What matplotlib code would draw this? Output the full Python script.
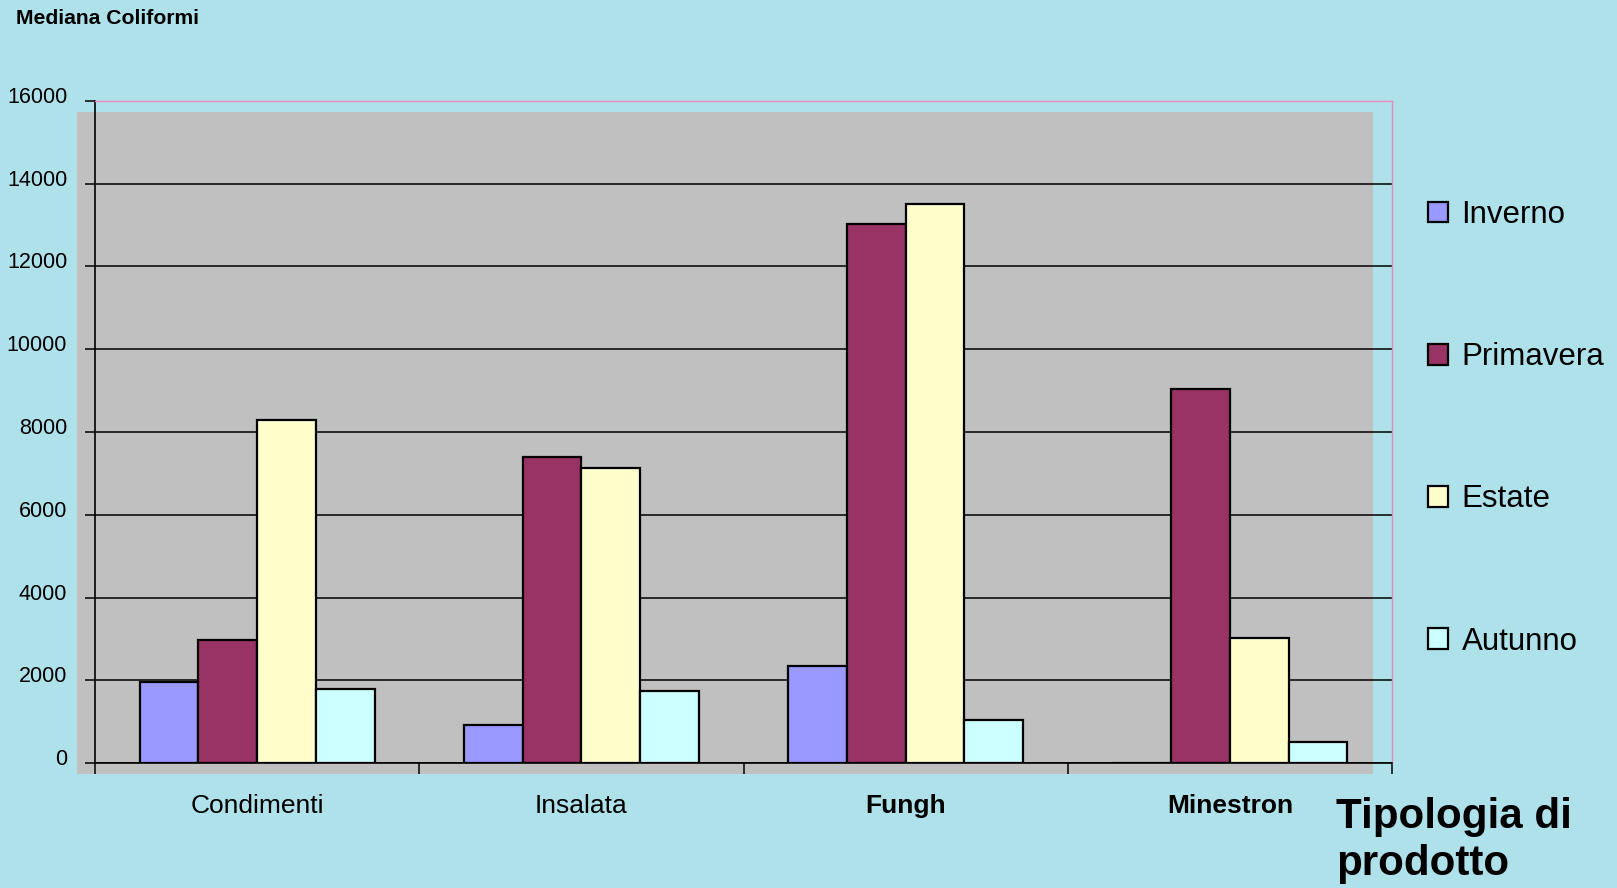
import matplotlib
matplotlib.use("Agg")
import matplotlib.pyplot as plt
import matplotlib.transforms as mtransforms
import numpy as np

plt.rcParams['font.family'] = ['Liberation Sans', 'DejaVu Sans']

# Mediana coliformi per tipologia di prodotto e stagione
categorie = ["Condimenti", "Insalata", "Fungh", "Minestron"]
categorie_bold = [False, False, True, True]
stagioni = ["Inverno", "Primavera", "Estate", "Autunno"]
inverno = [1950, 920, 2340, 0]
primavera = [2970, 7400, 13030, 9050]
estate = [8300, 7130, 13500, 3020]
autunno = [1800, 1750, 1050, 500]
y_ticks = [0, 2000, 4000, 6000, 8000, 10000, 12000, 14000, 16000]

colori = ["#9999FF", "#993366", "#FFFFCC", "#CCFFFF"]
serie = [inverno, primavera, estate, autunno]

W, H = 1617, 888
fig = plt.figure(figsize=(W / 100, H / 100), dpi=100)
fig.patch.set_facecolor("#afe1eb")

# grey plot area (offset from the axes, like the original)
bg = fig.add_axes([77 / W, 1 - 774 / H, 1296 / W, 662 / H])
bg.set_facecolor("#C0C0C0")
bg.set_xticks([])
bg.set_yticks([])
for s in bg.spines.values():
    s.set_visible(False)
bg.set_zorder(0)

ax = fig.add_axes([95 / W, 1 - 763 / H, 1297 / W, 662 / H])
ax.set_facecolor("none")
ax.set_zorder(1)

x = np.arange(len(categorie))
larg = 0.181
for i, (vals, col, nome) in enumerate(zip(serie, colori, stagioni)):
    ax.bar(x + (i - 1.5) * larg, vals, width=larg, color=col, edgecolor="black",
           linewidth=1.6, label=nome, zorder=3)

ax.set_xlim(-0.5, len(categorie) - 0.5)
ax.set_ylim(0, 16000)
ax.set_yticks(y_ticks)
ax.set_yticklabels([str(v) for v in y_ticks], fontsize=15.5)
ax.yaxis.grid(True, color="black", linewidth=1.1)
ax.set_axisbelow(True)
ax.tick_params(axis="y", length=7, width=1.1, pad=13)
# labels sit a little above their gridline
su = mtransforms.ScaledTranslation(0, 6 / 100, fig.dpi_scale_trans)
for lab in ax.get_yticklabels():
    lab.set_transform(lab.get_transform() + su)

ax.set_xticks(np.arange(len(categorie) + 1) - 0.5)
ax.set_xticklabels([])
ax.set_xticks(x, minor=True)
ax.set_xticklabels(categorie, minor=True, fontsize=19)
for lab, b in zip(ax.get_xticklabels(minor=True), categorie_bold):
    if b:
        lab.set_fontweight("bold")
ax.tick_params(axis="x", which="major", length=8, width=1.1)
ax.tick_params(axis="x", which="minor", length=0, pad=22)

for s in ["left", "bottom"]:
    ax.spines[s].set_color("black")
    ax.spines[s].set_linewidth(1.2)
for s in ["top", "right"]:
    ax.spines[s].set_color("#e88ac0")
    ax.spines[s].set_linewidth(1.0)

handles, labels = ax.get_legend_handles_labels()
leg = fig.legend(handles, labels, loc="upper left", bbox_to_anchor=(1428 / W, 1 - 200 / H),
                 frameon=False, fontsize=22.5, handlelength=0.65, handleheight=0.65,
                 handletextpad=0.42, labelspacing=3.59, borderpad=0, borderaxespad=0)
for p in leg.get_patches():
    p.set_linewidth(1.6)

fig.text(16 / W, 1 - 18 / H, "Mediana Coliformi", fontsize=15.2, fontweight="bold",
         va="center", ha="left")
fig.text(1336 / W, 1 - 797 / H, "Tipologia di\nprodotto", fontsize=30.3,
         fontweight="bold", va="top", ha="left", linespacing=1.22)

fig.savefig("out.png", dpi=100, facecolor=fig.get_facecolor())
